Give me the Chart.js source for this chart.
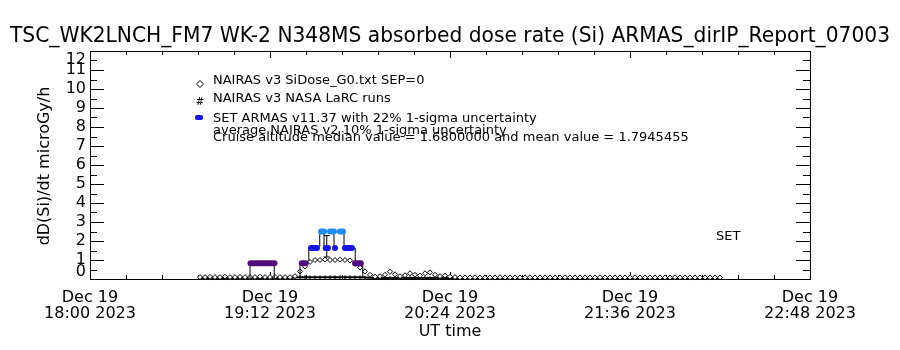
<!DOCTYPE html>
<html>
<head>
<meta charset="utf-8">
<script src="https://cdn.jsdelivr.net/npm/chart.js@4"></script>
<style>
  html, body { margin: 0; padding: 0; background: #fff; }
</style>
</head>
<body>
<canvas id="dose-chart" width="900" height="350"></canvas>
<script>
// ---- data (x in minutes after 18:00 UT, y in microGy/h) ----
const titleText = 'TSC_WK2LNCH_FM7 WK-2 N348MS absorbed dose rate (Si) ARMAS_dirIP_Report_07003';

const xTickMinutes = [0, 72, 144, 216, 288];
const xTickDates = ['Dec 19', 'Dec 19', 'Dec 19', 'Dec 19', 'Dec 19'];
const xTickTimes = ['18:00 2023', '19:12 2023', '20:24 2023', '21:36 2023', '22:48 2023'];
const yTickLabels = ['0', '1', '2', '3', '4', '5', '6', '7', '8', '9', '10', '11', '12'];

// NAIRAS model runs sampled every 2 minutes from 18:44
const sampleStart = 44;
const sampleStep = 2;
const nairasSiDose = [
  0.10, 0.10, 0.11, 0.10, 0.10, 0.12, 0.10, 0.10, 0.11, 0.10,
  0.10, 0.10, 0.12, 0.10, 0.10, 0.11, 0.10, 0.10, 0.10, 0.15,
  0.40, 0.65, 0.90, 1.00, 1.00, 1.02, 1.00, 1.00, 1.02, 1.00,
  0.98, 0.80, 0.60, 0.40, 0.22, 0.12, 0.15, 0.22, 0.38, 0.25,
  0.15, 0.20, 0.30, 0.22, 0.18, 0.30, 0.35, 0.22, 0.15, 0.18,
  0.12, 0.10, 0.08, 0.08, 0.08, 0.09, 0.08, 0.08, 0.08, 0.08,
  0.09, 0.08, 0.08, 0.08, 0.08, 0.08, 0.09, 0.08, 0.08, 0.08,
  0.08, 0.08, 0.08, 0.09, 0.08, 0.08, 0.08, 0.08, 0.08, 0.08,
  0.09, 0.08, 0.08, 0.08, 0.08, 0.08, 0.08, 0.09, 0.08, 0.08,
  0.08, 0.08, 0.08, 0.08, 0.08, 0.09, 0.08, 0.08, 0.08, 0.08,
  0.08, 0.08, 0.08, 0.08, 0.08
];
const nairasLarc = [
  0.05, 0.05, 0.05, 0.05, 0.05, 0.05, 0.05, 0.05, 0.05, 0.05,
  0.05, 0.05, 0.05, 0.05, 0.05, 0.05, 0.05, 0.05, 0.05, 0.08,
  0.09, 0.09, 0.09, 0.09, 0.09, 0.09, 0.09, 0.09, 0.09, 0.09,
  0.09, 0.09, 0.09, 0.08, 0.06, 0.05, 0.05, 0.05, 0.05, 0.05,
  0.05, 0.05, 0.05, 0.05, 0.05, 0.05, 0.05, 0.05, 0.05, 0.05,
  0.05, 0.05, 0.05, 0.05, 0.05, 0.05, 0.05, 0.05, 0.05, 0.05,
  0.05, 0.05, 0.05, 0.05, 0.05, 0.05, 0.05, 0.05, 0.05, 0.05,
  0.05, 0.05, 0.05, 0.05, 0.05, 0.05, 0.05, 0.05, 0.05, 0.05,
  0.05, 0.05, 0.05, 0.05, 0.05, 0.05, 0.05, 0.05, 0.05, 0.05,
  0.05, 0.05, 0.05, 0.05, 0.05, 0.05, 0.05, 0.05, 0.05, 0.05,
  0.05, 0.05, 0.05, 0.05, 0.05
];

// SET ARMAS measurements: time span and dose rate of each record
const setStart = [64.2, 84.7, 88.4, 94.3, 98.0, 102.0, 92.4, 96.0, 100.0, 106.0];
const setEnd   = [73.8, 86.3, 90.8, 95.2, 98.3, 104.8, 93.6, 97.6, 101.2, 108.3];
const setValue = [0.83, 0.83, 1.63, 1.63, 1.63, 1.63, 2.50, 2.50, 2.50, 0.83];

// connecting drops between SET records
const dropTime = [64.0, 73.7, 84.0, 87.5, 91.9, 93.6, 97.6, 101.6, 106.1, 109.1];
const dropLow  = [0.00, 0.00, 0.09, 0.95, 1.70, 1.50, 1.70, 1.70, 0.95, 0.09];
const dropHigh = [0.83, 0.83, 0.83, 1.63, 2.50, 2.50, 2.50, 2.50, 1.63, 0.83];

// average NAIRAS v2 uncertainty bar
const avgTime = 94.7;
const avgLow = 1.16;
const avgHigh = 2.28;

// ---- build the point lists ----
const sampleTimes = nairasSiDose.map((_, i) => sampleStart + i * sampleStep);
const siDosePoints = nairasSiDose.map((v, i) => ({ x: sampleTimes[i], y: v }));
const larcPoints = nairasLarc.map((v, i) => ({ x: sampleTimes[i], y: v }));

const setPoints = [];
setValue.forEach((v, i) => {
  setPoints.push({ x: setStart[i], y: v }, { x: setEnd[i], y: v }, { x: setEnd[i], y: null });
});
const dropPoints = [];
dropTime.forEach((t, i) => {
  dropPoints.push({ x: t, y: dropLow[i] }, { x: t, y: dropHigh[i] }, { x: t, y: null });
});

function setColour(v) {
  if (v < 1.2) return '#500c7c';
  if (v < 2.0) return '#1616e0';
  return '#1e8cf0';
}

const FONT = '"DejaVu Sans", sans-serif';

// IDL style frame, inward ticks and all the labels
const idlAxes = {
  id: 'idlAxes',
  beforeDatasetsDraw(chart) {
    const { ctx, chartArea: a, scales: { x, y } } = chart;
    ctx.save();
    ctx.strokeStyle = '#000';
    ctx.fillStyle = '#000';
    ctx.lineWidth = 1;
    ctx.strokeRect(a.left + 0.5, a.top + 0.5, a.right - a.left, a.bottom - a.top);

    const line = (x1, y1, x2, y2) => {
      ctx.beginPath(); ctx.moveTo(x1, y1); ctx.lineTo(x2, y2); ctx.stroke();
    };

    // y ticks every 0.5, both sides
    for (let k = 0; k <= 24; k++) {
      const py = Math.round(y.getPixelForValue(k / 2)) + 0.5;
      const len = k % 2 === 0 ? 14 : 7;
      line(a.left, py, a.left + len, py);
      line(a.right, py, a.right - len, py);
    }
    // x ticks every 14.4 min, top and bottom
    for (let k = 0; k <= 20; k++) {
      const px = Math.round(x.getPixelForValue(k * 14.4)) + 0.5;
      const len = k % 5 === 0 ? 7 : 4;
      line(px, a.bottom, px, a.bottom - len);
      line(px, a.top, px, a.top + len);
    }

    // y tick labels
    ctx.font = '16px ' + FONT;
    ctx.textAlign = 'right';
    yTickLabels.forEach((lab, v) => {
      const py = y.getPixelForValue(v);
      if (v === 0) { ctx.textBaseline = 'bottom'; ctx.fillText(lab, a.left - 4, py + 1); }
      else if (v === 12) { ctx.textBaseline = 'top'; ctx.fillText(lab, a.left - 4, py + 1); }
      else { ctx.textBaseline = 'middle'; ctx.fillText(lab, a.left - 4, py); }
    });

    // x tick labels
    ctx.textAlign = 'center';
    ctx.textBaseline = 'middle';
    xTickMinutes.forEach((m, i) => {
      const px = x.getPixelForValue(m);
      ctx.fillText(xTickDates[i], px, a.bottom + 19);
      ctx.fillText(xTickTimes[i], px, a.bottom + 35);
    });

    // axis titles
    ctx.fillText('UT time', (a.left + a.right) / 2, a.bottom + 53);
    ctx.save();
    ctx.translate(45, 166);
    ctx.rotate(-Math.PI / 2);
    ctx.fillText('dD(Si)/dt microGy/h', 0, 0);
    ctx.restore();

    // main title, stretched to the page width like the IDL font
    ctx.font = '21px ' + FONT;
    const w = ctx.measureText(titleText).width;
    ctx.save();
    ctx.translate(450, 37);
    ctx.scale(880 / w, 1);
    ctx.fillText(titleText, 0, 0);
    ctx.restore();

    // in-plot legend
    ctx.font = '13px ' + FONT;
    ctx.textAlign = 'left';
    const lx = 213;
    ctx.fillText('NAIRAS v3 SiDose_G0.txt SEP=0', lx, 81);
    ctx.fillText('NAIRAS v3 NASA LaRC runs', lx, 99);
    ctx.fillText('SET ARMAS v11.37 with 22% 1-sigma uncertainty', lx, 118.5);
    ctx.fillText('average NAIRAS v2 10% 1-sigma uncertainty', lx, 131);
    ctx.fillText('Cruise altitude median value = 1.6800000 and mean value = 1.7945455', lx, 137.5);
    ctx.fillText('SET', 716, 237);

    // legend symbols
    ctx.beginPath();
    ctx.moveTo(200, 80.5); ctx.lineTo(203.5, 84); ctx.lineTo(200, 87.5); ctx.lineTo(196.5, 84); ctx.closePath();
    ctx.fillStyle = '#fff'; ctx.fill(); ctx.stroke();
    ctx.fillStyle = '#000';
    ctx.font = '10px ' + FONT;
    ctx.textAlign = 'center';
    ctx.fillText('#', 200, 102);
    ctx.fillStyle = setColour(1.6);
    ctx.beginPath();
    ctx.roundRect(195, 115, 8, 5, 2);
    ctx.fill();
    ctx.restore();
  }
};

const chart = new Chart(document.getElementById('dose-chart'), {
  type: 'line',
  data: {
    datasets: [{
      label: 'SET ARMAS v11.37',
      data: setPoints,
      borderWidth: 6,
      borderCapStyle: 'round',
      borderColor: setColour(2),
      segment: { borderColor: c => setColour(c.p0.parsed.y) },
      pointRadius: 0,
      spanGaps: false,
      clip: false,
      order: 1
    }, {
      label: 'average NAIRAS v2',
      data: [{ x: avgTime, y: avgLow }, { x: avgTime, y: avgHigh }],
      borderColor: '#000',
      borderWidth: 1,
      pointStyle: 'line',
      pointRadius: 3,
      pointBorderColor: '#000',
      pointBorderWidth: 1,
      clip: false,
      order: 2
    }, {
      label: 'SET steps',
      data: dropPoints,
      borderColor: '#000',
      borderWidth: 1,
      pointRadius: 0,
      spanGaps: false,
      clip: false,
      order: 3
    }, {
      label: 'NAIRAS v3 SiDose_G0.txt SEP=0',
      data: siDosePoints,
      showLine: false,
      pointStyle: 'rectRot',
      pointRadius: 2.5,
      pointBackgroundColor: '#fff',
      pointBorderColor: '#000',
      pointBorderWidth: 1,
      clip: false,
      order: 4
    }, {
      label: 'NAIRAS v3 NASA LaRC runs',
      data: larcPoints,
      borderColor: '#000',
      borderWidth: 2,
      pointStyle: 'line',
      rotation: 90,
      pointRadius: 2,
      pointBorderColor: '#000',
      pointBorderWidth: 1,
      clip: false,
      order: 5
    }]
  },
  options: {
    responsive: false,
    animation: false,
    layout: { padding: { left: 90, right: 90, top: 51, bottom: 71 } },
    plugins: {
      legend: { display: false },
      title: { display: false },
      tooltip: { enabled: false }
    },
    scales: {
      x: { type: 'linear', min: 0, max: 288, display: false },
      y: { type: 'linear', min: 0, max: 12, display: false }
    }
  },
  plugins: [idlAxes]
});
</script>
</body>
</html>
